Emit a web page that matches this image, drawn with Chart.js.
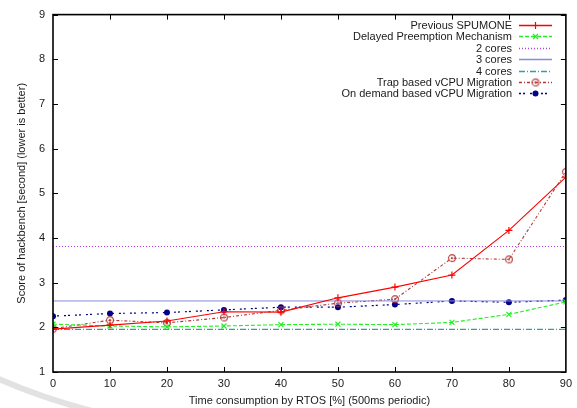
<!DOCTYPE html>
<html>
<head>
<meta charset="utf-8">
<script src="https://cdn.jsdelivr.net/npm/chart.js@4/dist/chart.umd.min.js"></script>
<style>
  html, body { margin: 0; padding: 0; background: #fff; }
  #wrap { width: 577px; height: 408px; position: relative; }
</style>
</head>
<body>
<div id="wrap"><canvas id="chart"></canvas></div>
<script>
// RTOS load (x) and hackbench scores (y, seconds)
const rtosLoad = [0, 10, 20, 30, 40, 50, 60, 70, 80, 90];
const previousSpumone   = [1.96, 2.05, 2.14, 2.35, 2.34, 2.66, 2.90, 3.17, 4.17, 5.36];
const delayedPreemption = [2.07, 2.03, 2.01, 2.03, 2.06, 2.07, 2.06, 2.11, 2.29, 2.57];
const trapMigration     = [1.97, 2.16, 2.10, 2.22, 2.38, 2.54, 2.63, 3.55, 3.52, 5.48];
const onDemandMigration = [2.25, 2.31, 2.33, 2.39, 2.45, 2.45, 2.51, 2.59, 2.56, 2.61];
// Reference levels for multi-core runs
const twoCores = 3.81;
const threeCores = 2.59;
const fourCores = 1.955;

const seriesLabels = [
  'Previous SPUMONE',
  'Delayed Preemption Mechanism',
  '2 cores',
  '3 cores',
  '4 cores',
  'Trap based vCPU Migration',
  'On demand based vCPU Migration'
];
const xTickValues = [0, 10, 20, 30, 40, 50, 60, 70, 80, 90];
const yTickValues = [1, 2, 3, 4, 5, 6, 7, 8, 9];

const FONT = 'Liberation Sans, Arial, sans-serif';

const toPoints = (ys) => rtosLoad.map((x, i) => ({ x, y: ys[i] }));
const flat = (y) => [{ x: rtosLoad[0], y }, { x: rtosLoad[rtosLoad.length - 1], y }];

// Line and marker style per series
const seriesStyles = [
  { color: '#ff0000', width: 1.1, dash: [],           marker: 'cross',    r: 3.5 },
  { color: '#22ee22', width: 1.1, dash: [4, 2],       marker: 'crossRot', r: 3.5 },
  { color: '#b040ee', width: 1.1, dash: [1, 2],       marker: null,       r: 0 },
  { color: '#8a8ada', width: 1.0, dash: [],           marker: null,       r: 0 },
  { color: '#30a0a0', width: 1.1, dash: [6, 2, 1, 2], marker: null,       r: 0 },
  { color: '#b03a3a', width: 1.1, dash: [3, 2, 1, 2], marker: 'ring',     r: 3.4 },
  { color: '#000088', width: 1.2, dash: [2, 2, 2, 5], marker: 'circle',   r: 3 }
];

// Open circle with a centre dot
function ringMarker(color, r) {
  const c = document.createElement('canvas');
  c.width = 10; c.height = 10;
  const g = c.getContext('2d');
  g.strokeStyle = color; g.lineWidth = 1.1;
  g.beginPath(); g.arc(5, 5, r, 0, Math.PI * 2); g.stroke();
  g.fillStyle = color;
  g.beginPath(); g.arc(5, 5, 1.1, 0, Math.PI * 2); g.fill();
  return c;
}
const ringImage = ringMarker(seriesStyles[5].color, seriesStyles[5].r);

const seriesData = [
  toPoints(previousSpumone),
  toPoints(delayedPreemption),
  flat(twoCores),
  flat(threeCores),
  flat(fourCores),
  toPoints(trapMigration),
  toPoints(onDemandMigration)
];

const datasets = seriesData.map((data, i) => {
  const s = seriesStyles[i];
  return {
    label: seriesLabels[i],
    data,
    borderColor: s.color,
    backgroundColor: s.color,
    borderWidth: s.width,
    borderDash: s.dash.slice(),
    pointStyle: s.marker === 'ring' ? ringImage : (s.marker || 'circle'),
    pointRadius: s.r,
    pointBorderWidth: s.marker === 'circle' ? 0 : 1.2
  };
});

// Faint page arc behind the chart
const pageArc = {
  id: 'pageArc',
  beforeDraw(chart) {
    const ctx = chart.ctx;
    ctx.save();
    ctx.strokeStyle = '#e2e2e2';
    ctx.lineWidth = 6;
    ctx.beginPath();
    ctx.arc(250, -200, 631, Math.PI * 100 / 180, Math.PI * 122 / 180);
    ctx.stroke();
    ctx.restore();
  }
};

// Closed frame with inward tick marks on all four sides
const frameTicks = {
  id: 'frameTicks',
  afterDatasetsDraw(chart) {
    const { ctx, chartArea: a, scales: { x, y } } = chart;
    ctx.save();
    ctx.strokeStyle = '#000';
    ctx.lineWidth = 1;
    const len = 5;
    ctx.beginPath();
    xTickValues.forEach(v => {
      const px = Math.round(x.getPixelForValue(v)) + 0.5;
      if (v !== xTickValues[0] && v !== xTickValues[xTickValues.length - 1]) {
        ctx.moveTo(px, a.bottom); ctx.lineTo(px, a.bottom - len);
        ctx.moveTo(px, a.top); ctx.lineTo(px, a.top + len);
      }
    });
    yTickValues.forEach(v => {
      const py = Math.round(y.getPixelForValue(v)) + 0.5;
      ctx.moveTo(a.left, py); ctx.lineTo(a.left + len, py);
      ctx.moveTo(a.right, py); ctx.lineTo(a.right - len, py);
    });
    ctx.stroke();
    ctx.lineWidth = 1.6;
    ctx.strokeRect(a.left, a.top, a.right - a.left, a.bottom - a.top);
    ctx.restore();
  }
};

// Key in the upper right: text right-aligned, sample to its right
const keyBox = {
  id: 'keyBox',
  afterDraw(chart) {
    const ctx = chart.ctx;
    const textRight = 512, x0 = 519, x1 = 552, mid = (x0 + x1) / 2;
    ctx.save();
    ctx.font = '11px ' + FONT;
    ctx.textAlign = 'right';
    ctx.textBaseline = 'middle';
    seriesLabels.forEach((label, i) => {
      const s = seriesStyles[i];
      const yy = Math.round(25 + i * 11.4) + 0.5;
      ctx.fillStyle = '#1a1a1a';
      ctx.fillText(label, textRight, yy);
      ctx.strokeStyle = s.color;
      ctx.fillStyle = s.color;
      ctx.lineWidth = s.width + 0.4;
      ctx.setLineDash(s.dash);
      ctx.beginPath(); ctx.moveTo(x0, yy); ctx.lineTo(x1, yy); ctx.stroke();
      ctx.setLineDash([]);
      const r = s.r;
      if (s.marker === 'circle') {
        ctx.beginPath(); ctx.arc(mid, yy, r, 0, Math.PI * 2); ctx.fill();
      } else if (s.marker === 'cross') {
        ctx.lineWidth = 1.2;
        ctx.beginPath();
        ctx.moveTo(mid - r, yy); ctx.lineTo(mid + r, yy);
        ctx.moveTo(mid, yy - r); ctx.lineTo(mid, yy + r);
        ctx.stroke();
      } else if (s.marker === 'crossRot') {
        ctx.lineWidth = 1.2;
        const d = r * Math.SQRT1_2;
        ctx.beginPath();
        ctx.moveTo(mid - d, yy - d); ctx.lineTo(mid + d, yy + d);
        ctx.moveTo(mid - d, yy + d); ctx.lineTo(mid + d, yy - d);
        ctx.stroke();
      } else if (s.marker === 'ring') {
        ctx.drawImage(ringImage, mid - 5, yy - 5);
      }
    });
    ctx.restore();
  }
};

new Chart(document.getElementById('chart'), {
  type: 'line',
  data: { datasets },
  plugins: [pageArc, frameTicks, keyBox],
  options: {
    responsive: true,
    maintainAspectRatio: false,
    animation: false,
    layout: { padding: { left: 0, right: 11, top: 14, bottom: 0 } },
    plugins: { legend: { display: false }, tooltip: { enabled: false } },
    elements: { line: { tension: 0, fill: false } },
    scales: {
      x: {
        type: 'linear', min: 0, max: 90,
        afterBuildTicks(s) { s.ticks = xTickValues.map(v => ({ value: v })); },
        afterFit(s) { s.height = 36; },
        grid: { display: false, drawTicks: false },
        border: { display: false },
        ticks: { padding: 5, color: '#1a1a1a', font: { family: FONT, size: 11 }, maxRotation: 0 },
        title: { display: true, text: 'Time consumption by RTOS [%] (500ms periodic)', color: '#1a1a1a',
                 font: { family: FONT, size: 11 }, padding: { top: 11, bottom: 0 } }
      },
      y: {
        type: 'linear', min: 1, max: 9,
        afterBuildTicks(s) { s.ticks = yTickValues.map(v => ({ value: v })); },
        afterFit(s) { s.width = 53; },
        grid: { display: false, drawTicks: false },
        border: { display: false },
        ticks: { padding: 8, color: '#1a1a1a', font: { family: FONT, size: 11 } },
        title: { display: true, text: 'Score of hackbench [second] (lower is better)', color: '#1a1a1a',
                 font: { family: FONT, size: 11 }, padding: { top: 15, bottom: 0 } }
      }
    }
  }
});
</script>
</body>
</html>
